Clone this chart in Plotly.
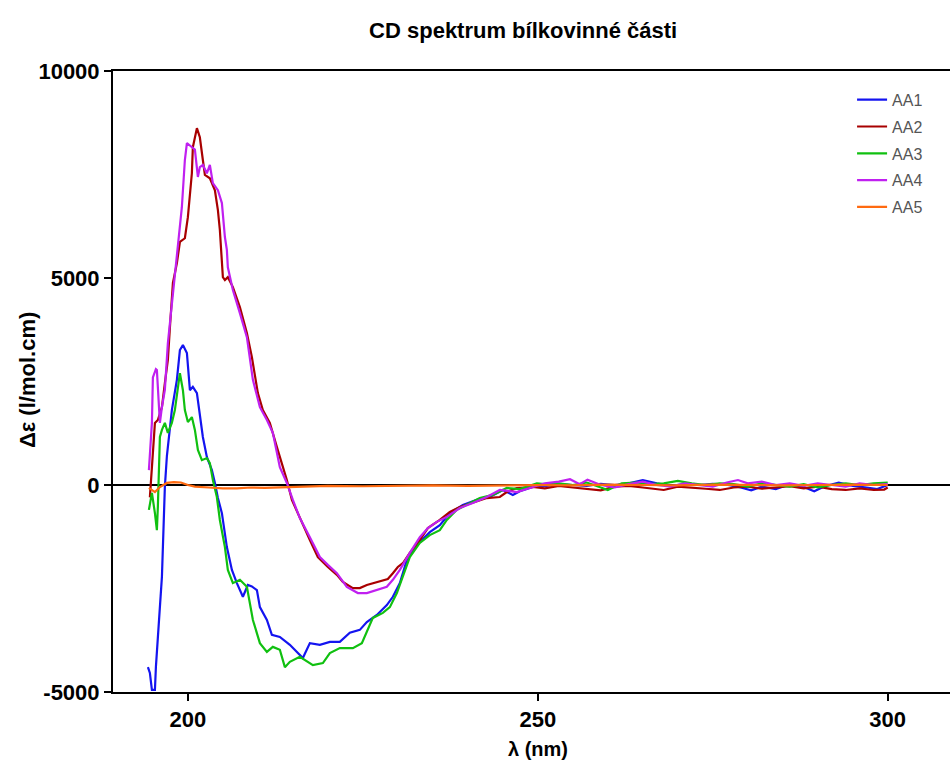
import plotly.graph_objects as go

# ---------------- data ----------------
aa1_wl = [194.29, 194.57, 194.86, 195.29, 195.43, 195.71, 196.0, 196.29, 196.43, 196.71, 197.0,
          197.71, 198.43, 198.86, 199.29, 199.86, 200.29, 200.71, 201.29, 201.71, 202.14, 202.71,
          203.43, 203.86, 204.29, 204.86, 205.57, 206.29, 207.0, 207.86, 208.57, 209.14, 209.86,
          210.29, 211.29, 212.0, 213.14, 214.57, 216.43, 217.43, 218.86, 220.29, 221.71, 223.14,
          224.57, 225.57, 227.0, 228.43, 229.29, 230.29, 231.29, 232.14, 233.14, 234.57, 236.0,
          237.43, 239.29, 241.29, 243.14, 245.0, 246.43, 247.43, 249.29,
          251, 253, 255, 257, 259, 261, 263, 265, 267, 269, 271, 273, 275, 277, 279, 280.5,
          282, 284, 286, 288, 289.5, 291, 293, 295, 297, 298.5, 300]
aa1_val = [-4400, -4540, -4950, -4950, -4400, -3570, -2950, -2220, -1260, -48, 700,
           1810, 2540, 3260, 3380, 3190, 2290, 2370, 2220, 1740, 1160, 680,
           360, 50, -315, -680, -1500, -2050, -2370, -2700, -2415, -2450, -2540,
           -2950, -3260, -3620, -3670, -3860, -4180, -3820, -3860, -3790, -3790, -3570,
           -3500, -3310, -3140, -2900, -2700, -2370, -1810, -1570, -1380, -1140, -970,
           -680, -480, -360, -290, -120, -240, -150, -48,
           -30, 20, 0, -20, 30, 0, 40, 120, 40, -20, 20, 0, 30, 10, -60, -130,
           -40, -100, 20, -50, -150, -30, 60, -20, -60, -100, 0]

aa2_wl = [194.57, 194.71, 195.29, 195.71, 196.29, 196.71, 197.14, 197.43, 197.86, 198.43, 198.86,
          199.57, 200.0, 200.57, 200.71, 201.29, 201.71, 202.14, 202.43, 203.14, 203.86, 204.29,
          204.57, 205.0, 205.29, 205.71, 206.43, 207.43, 208.43, 209.14, 209.57, 210.0, 210.71,
          211.71, 212.71, 213.43, 214.14, 214.86, 216.0, 217.43, 218.57, 220.0, 221.29, 222.14,
          223.57, 224.57, 225.57, 227.0, 228.57, 229.29, 230.0, 230.71, 231.71, 233.14, 234.29,
          236.0, 237.43, 238.86, 240.71, 242.71, 244.57, 245.57, 247.0, 249.29,
          251, 253, 255, 257, 259, 261, 263, 265, 267, 268, 270, 272, 274, 276, 278, 280,
          282, 284, 286, 288, 290, 292, 294, 296, 298, 299.5, 300]
aa2_val = [-300, 50, 1500, 1570, 1880, 2460, 3020, 3800, 4880, 5360, 5870,
           5960, 6470, 7530, 8160, 8620, 8400, 7850, 7490, 7410, 7120, 6640,
           6160, 5020, 4950, 5020, 4780, 4300, 3670, 3090, 2700, 2220, 1810,
           1500, 920, 530, 120, -360, -800, -1330, -1740, -1980, -2170, -2340,
           -2490, -2490, -2415, -2340, -2270, -2130, -1980, -1890, -1640, -1330, -1040,
           -845, -650, -530, -435, -315, -290, -170, -72, -48,
           -80, -20, -60, -100, -130, -40, -20, -60, -110, -120, -40, -60, -90, -120, -60, -40,
           -90, -60, -30, -80, -40, -100, -120, -80, -120, -110, -60]

aa3_wl = [194.43, 194.86, 195.29, 195.57, 195.71, 195.86, 196.0, 196.29, 196.71, 197.14, 197.71,
          198.14, 198.57, 198.86, 199.29, 199.57, 200.0, 200.57, 201.0, 201.43, 202.0, 202.71,
          203.14, 203.57, 204.14, 204.57, 205.29, 205.71, 206.43, 207.43, 208.43, 209.29, 210.29,
          211.29, 212.14, 213.14, 213.86, 214.57, 216.0, 217.86, 219.29, 220.29, 221.71, 223.57,
          224.86, 225.57, 226.43, 227.86, 228.86, 229.86, 230.71, 231.71, 233.14, 234.57, 236.0,
          237.0, 238.43, 239.86, 241.71, 243.57, 245.57, 247.43, 249.86,
          251, 253, 255, 257, 259, 260, 262, 264, 266, 268, 270, 272, 274, 276, 278, 280,
          282, 284, 286, 288, 290, 292, 294, 296, 298, 300]
aa3_val = [-600, -190, -680, -1090, -530, 400, 1160, 1330, 1500, 1260, 1500,
           1810, 2290, 2700, 2290, 1810, 1520, 1640, 1330, 845, 600, 650,
           530, 120, -290, -845, -1500, -2050, -2370, -2290, -2460, -3260, -3820,
           -4030, -3910, -3980, -4400, -4270, -4150, -4350, -4300, -4060, -3940, -3940,
           -3820, -3550, -3210, -3090, -2950, -2610, -2220, -1740, -1400, -1210, -1090,
           -845, -600, -480, -315, -240, -72, -100, 40,
           20, 40, 0, 60, -60, -120, 40, 60, 20, 40, 100, 40, 0, 40, 20, -40,
           40, 0, -40, 20, -60, 0, 40, 0, 40, 60]

aa4_wl = [194.43, 194.86, 195.0, 195.43, 195.57, 195.86, 196.0, 196.29, 196.71, 197.14, 197.71,
          198.14, 198.57, 199.14, 199.57, 199.86, 200.29, 200.57, 201.0, 201.43, 201.71, 202.14,
          202.71, 203.14, 203.57, 204.29, 204.86, 205.29, 205.57, 205.71, 206.43, 207.43, 208.43,
          209.29, 210.29, 211.29, 212.14, 213.14, 214.14, 215.0, 216.0, 217.43, 218.86, 220.0,
          221.29, 222.71, 224.29, 225.57, 227.0, 228.43, 229.29, 230.29, 231.71, 233.14, 234.29,
          235.57, 237.0, 238.86, 240.71, 242.71, 244.57, 247.0, 249.29,
          251, 253, 254.6, 256, 257.1, 259, 261, 263, 265, 267, 269, 271, 273, 275, 277, 278.6,
          280, 282, 284, 286, 288, 290, 292, 294, 296, 298, 300]
aa4_val = [360, 1500, 2600, 2800, 2780, 1800, 1500, 1880, 2300, 3430, 4400,
           5190, 5800, 6710, 7850, 8260, 8200, 8160, 8100, 7440, 7680, 7730,
           7530, 7730, 7290, 7120, 6810, 5990, 5680, 5260, 4710, 4150, 3570,
           2540, 1880, 1570, 1260, 430, 50, -360, -800, -1260, -1740, -1930,
           -2130, -2460, -2610, -2610, -2540, -2460, -2290, -2050, -1640, -1260, -1040,
           -890, -770, -555, -435, -290, -120, -170, -48,
           40, 80, 140, 20, 130, 0, -60, 20, 80, 0, -40, 40, 0, -40, 60, 120,
           40, 80, 0, 40, -20, 40, 0, -40, 40, 0, 20]

aa5_wl = [194.43, 194.86, 195.29, 196.0, 197.0, 198.0, 199.0, 200.0, 201.0, 203.0, 205.0,
          207.0, 209.0, 211.0, 213.0, 215.0, 220.0, 225.0, 230.0, 235.0, 240.0, 245.0,
          250.0, 255.0, 260.0, 265.0, 270.0, 275.0, 280.0, 285.0, 290.0, 295.0, 300.0]
aa5_val = [-70, -120, -170, -50, 50, 70, 60, 0, -40, -60, -80,
           -80, -60, -70, -60, -40, -20, -30, -20, -10, -20, -10,
           0, -10, 10, 0, -10, 10, 0, -10, 0, 10, 0]

series = [
    ("AA1", aa1_wl, aa1_val, "#1414F0"),
    ("AA2", aa2_wl, aa2_val, "#A80000"),
    ("AA3", aa3_wl, aa3_val, "#10C010"),
    ("AA4", aa4_wl, aa4_val, "#C020F0"),
    ("AA5", aa5_wl, aa5_val, "#FF6A10"),
]

x_ticks = [200, 250, 300]
y_ticks = [-5000, 0, 5000, 10000]

# ---------------- figure ----------------
fig = go.Figure()
for name, wl, val, col in series:
    fig.add_trace(go.Scatter(x=wl, y=val, mode="lines", name=name, legendgroup=name,
                             line=dict(color=col, width=2.2)))

FONT = "Liberation Sans, Arial, sans-serif"

fig.update_layout(
    width=950, height=762,
    margin=dict(l=113, r=0, t=71, b=70),
    paper_bgcolor="white", plot_bgcolor="white",
    font=dict(family=FONT, color="black"),
    showlegend=True,
    legend=dict(x=0.883, y=0.981, xanchor="left", yanchor="top",
                font=dict(family=FONT, size=16, color="#555555"),
                bgcolor="rgba(0,0,0,0)", tracegroupgap=3, traceorder="grouped"),
    title=dict(text="<b>CD spektrum bílkovinné části</b>", xref="paper", x=0.49, xanchor="center",
               yref="container", y=1 - 30 / 762, yanchor="middle",
               font=dict(family=FONT, size=22, color="black")),
)

fig.update_xaxes(range=[189.3, 308.9], tickmode="array", tickvals=x_ticks,
                 ticktext=[str(t) for t in x_ticks],
                 showline=True, linecolor="black", linewidth=2, mirror=True,
                 ticks="outside", ticklen=7, tickwidth=2, tickcolor="black",
                 tickfont=dict(family=FONT, size=22, color="black", weight="bold"),
                 showgrid=False, zeroline=False)
fig.update_yaxes(range=[-5000, 10000], tickmode="array", tickvals=y_ticks,
                 ticktext=[str(t) for t in y_ticks],
                 showline=True, linecolor="black", linewidth=2,
                 ticks="outside", ticklen=7, tickwidth=2, tickcolor="black",
                 tickfont=dict(family=FONT, size=22, color="black", weight="bold"),
                 showgrid=False, zeroline=True, zerolinecolor="black", zerolinewidth=2)

fig.add_annotation(text="<b>λ (nm)</b>", xref="paper", yref="paper",
                   x=(538 - 113) / 837, y=-(749 - 692) / 621, xanchor="center", yanchor="middle",
                   showarrow=False, font=dict(family=FONT, size=20, color="black"))
fig.add_annotation(text="<b>Δε (l/mol.cm)</b>", xref="paper", yref="paper",
                   x=(27 - 113) / 837, y=(692 - 380) / 621, xanchor="center", yanchor="middle",
                   textangle=-90, showarrow=False, font=dict(family=FONT, size=22, color="black"))

fig.write_html(
    "out.html",
    config={"displayModeBar": False},
    post_script="document.body.style.margin='0';document.body.style.overflow='hidden';"
                "document.documentElement.style.overflow='hidden';",
)
